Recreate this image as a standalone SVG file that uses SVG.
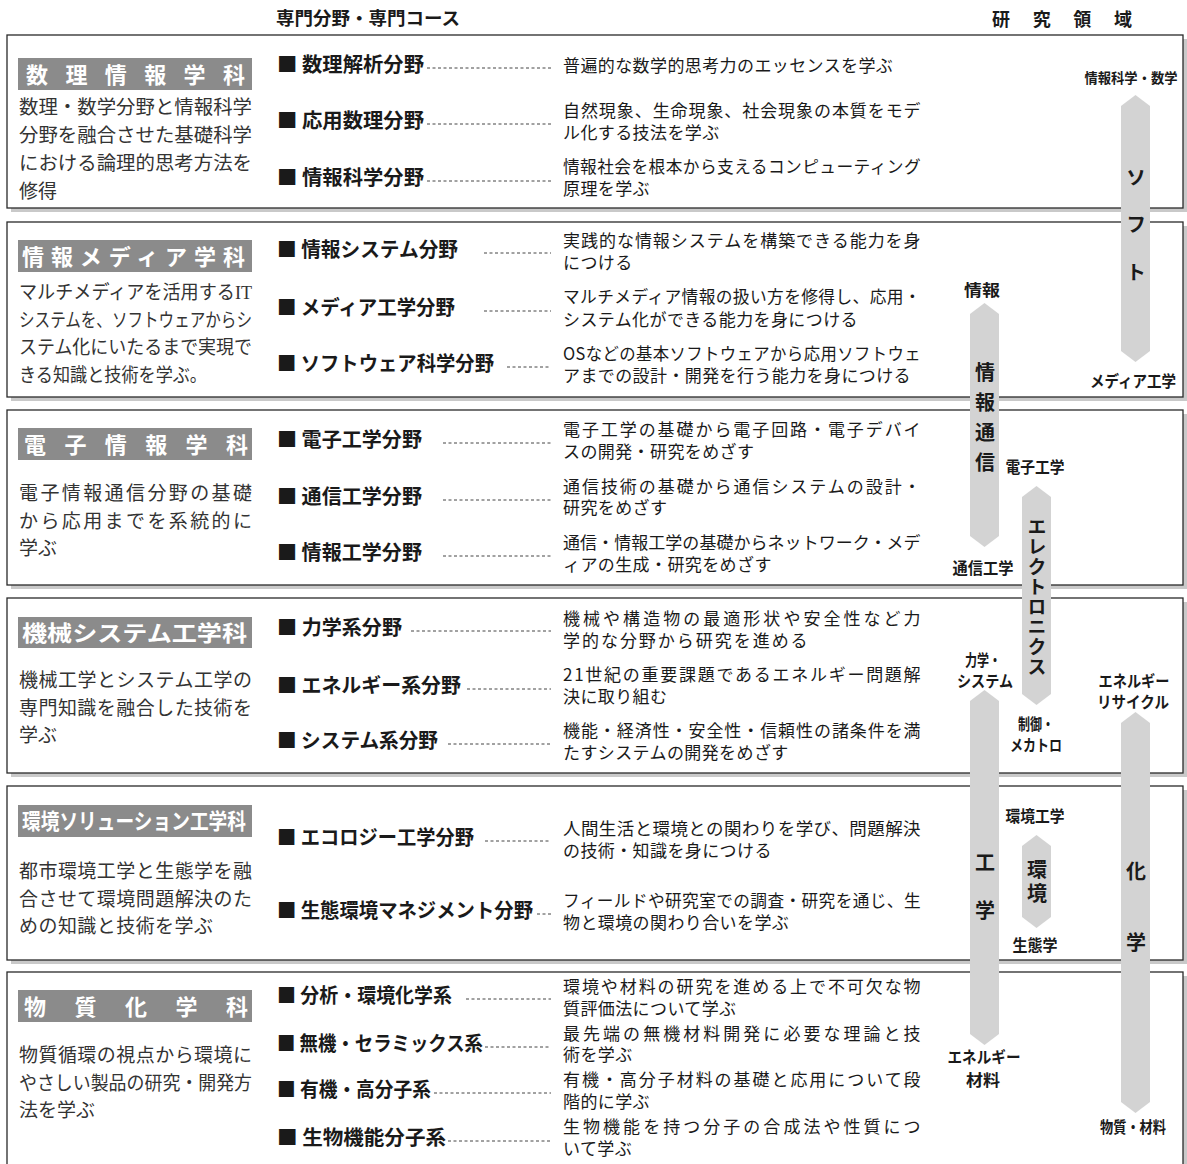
<svg xmlns="http://www.w3.org/2000/svg" width="1187" height="1164" viewBox="0 0 1187 1164">
<style>
text{font-family:"Noto Sans CJK JP","Noto Sans",sans-serif;fill:#1a1a1a}
.shadow{fill:#c9c9c9}
.box{fill:#fff;stroke:#2a2a2a;stroke-width:1.3}
.lbl{fill:#8b8b8b}
.lt{font-size:22px;font-weight:700;fill:#fff}
.fld{font-size:20px;font-weight:700}
.dsc{font-size:17px;letter-spacing:0.4px}
.ldsc{font-family:"Liberation Serif","Noto Sans CJK JP",serif;font-size:19px;fill:#333}
.lead{stroke:#444;stroke-width:1;stroke-dasharray:3 2.5;fill:none}
.bar{fill:#d3d3d3}
.bt{font-size:20px;font-weight:700;writing-mode:vertical-rl}
.rt{font-size:16px;font-weight:700;text-anchor:middle}
.hdr{font-size:18px;font-weight:700}
</style>
<rect width="1187" height="1164" fill="#fff"/>

<g id="headers">
<text class="hdr" x="276" y="25" textLength="184" lengthAdjust="spacingAndGlyphs">専門分野・専門コース</text>
<text class="hdr" x="992" y="26" textLength="140" lengthAdjust="spacing">研究領域</text>
</g>

<g id="dept-suuri">
<rect class="shadow" x="11" y="39" width="1176" height="173"/>
<rect class="box" x="7" y="35" width="1176" height="173"/>
<rect class="lbl" x="18" y="58" width="234" height="32"/>
<text class="lt" x="26" y="83" textLength="219" lengthAdjust="spacing">数理情報学科</text>
<text class="ldsc" x="19" y="114" textLength="233" lengthAdjust="spacingAndGlyphs">数理・数学分野と情報科学</text>
<text class="ldsc" x="19" y="142" textLength="233" lengthAdjust="spacingAndGlyphs">分野を融合させた基礎科学</text>
<text class="ldsc" x="19" y="170" textLength="233" lengthAdjust="spacingAndGlyphs">における論理的思考方法を</text>
<text class="ldsc" x="19" y="198">修得</text>
<text class="fld" x="277" y="72" textLength="147" lengthAdjust="spacingAndGlyphs">■ 数理解析分野</text>
<text class="fld" x="277" y="128" textLength="147" lengthAdjust="spacingAndGlyphs">■ 応用数理分野</text>
<text class="fld" x="277" y="185" textLength="147" lengthAdjust="spacingAndGlyphs">■ 情報科学分野</text>
<text class="dsc" x="563" y="72">普遍的な数学的思考力のエッセンスを学ぶ</text>
<text class="dsc" x="563" y="117" textLength="358" lengthAdjust="spacing">自然現象、生命現象、社会現象の本質をモデ</text>
<text class="dsc" x="563" y="139">ル化する技法を学ぶ</text>
<text class="dsc" x="563" y="173" textLength="358" lengthAdjust="spacingAndGlyphs">情報社会を根本から支えるコンピューティング</text>
<text class="dsc" x="563" y="195">原理を学ぶ</text>
</g>

<g id="dept-media">
<rect class="shadow" x="11" y="226" width="1176" height="175"/>
<rect class="box" x="7" y="222" width="1176" height="175"/>
<rect class="lbl" x="18" y="240" width="234" height="32"/>
<text class="lt" x="22" y="265" textLength="223" lengthAdjust="spacing">情報メディア学科</text>
<text class="ldsc" x="19" y="299" textLength="233" lengthAdjust="spacingAndGlyphs">マルチメディアを活用するIT</text>
<text class="ldsc" x="19" y="327" textLength="233" lengthAdjust="spacingAndGlyphs">システムを、ソフトウェアからシ</text>
<text class="ldsc" x="19" y="354" textLength="233" lengthAdjust="spacingAndGlyphs">ステム化にいたるまで実現で</text>
<text class="ldsc" x="19" y="382" textLength="188" lengthAdjust="spacingAndGlyphs">きる知識と技術を学ぶ。</text>
<text class="fld" x="277" y="257" textLength="181" lengthAdjust="spacingAndGlyphs">■ 情報システム分野</text>
<text class="fld" x="277" y="315" textLength="178" lengthAdjust="spacingAndGlyphs">■ メディア工学分野</text>
<text class="fld" x="277" y="371" textLength="217" lengthAdjust="spacingAndGlyphs">■ ソフトウェア科学分野</text>
<text class="dsc" x="563" y="247" textLength="358" lengthAdjust="spacing">実践的な情報システムを構築できる能力を身</text>
<text class="dsc" x="563" y="269">につける</text>
<text class="dsc" x="563" y="303" textLength="358" lengthAdjust="spacingAndGlyphs">マルチメディア情報の扱い方を修得し、応用・</text>
<text class="dsc" x="563" y="326">システム化ができる能力を身につける</text>
<text class="dsc" x="563" y="360" textLength="358" lengthAdjust="spacingAndGlyphs">OSなどの基本ソフトウェアから応用ソフトウェ</text>
<text class="dsc" x="563" y="382">アまでの設計・開発を行う能力を身につける</text>
</g>

<g id="dept-denshi">
<rect class="shadow" x="11" y="414" width="1176" height="175"/>
<rect class="box" x="7" y="410" width="1176" height="175"/>
<rect class="lbl" x="18" y="428" width="234" height="32"/>
<text class="lt" x="24" y="453" textLength="224" lengthAdjust="spacing">電子情報学科</text>
<text class="ldsc" x="19" y="500" textLength="233" lengthAdjust="spacing">電子情報通信分野の基礎</text>
<text class="ldsc" x="19" y="528" textLength="233" lengthAdjust="spacing">から応用までを系統的に</text>
<text class="ldsc" x="19" y="555">学ぶ</text>
<text class="fld" x="277" y="447" textLength="145" lengthAdjust="spacingAndGlyphs">■ 電子工学分野</text>
<text class="fld" x="277" y="504" textLength="145" lengthAdjust="spacingAndGlyphs">■ 通信工学分野</text>
<text class="fld" x="277" y="560" textLength="145" lengthAdjust="spacingAndGlyphs">■ 情報工学分野</text>
<text class="dsc" x="563" y="436" textLength="358" lengthAdjust="spacing">電子工学の基礎から電子回路・電子デバイ</text>
<text class="dsc" x="563" y="458">スの開発・研究をめざす</text>
<text class="dsc" x="563" y="493" textLength="358" lengthAdjust="spacing">通信技術の基礎から通信システムの設計・</text>
<text class="dsc" x="563" y="514">研究をめざす</text>
<text class="dsc" x="563" y="549" textLength="358" lengthAdjust="spacing">通信・情報工学の基礎からネットワーク・メデ</text>
<text class="dsc" x="563" y="571">ィアの生成・研究をめざす</text>
</g>

<g id="dept-kikai">
<rect class="shadow" x="11" y="602" width="1176" height="175"/>
<rect class="box" x="7" y="598" width="1176" height="175"/>
<rect class="lbl" x="18" y="617" width="234" height="31"/>
<text class="lt" x="22" y="641" textLength="225" lengthAdjust="spacingAndGlyphs">機械システム工学科</text>
<text class="ldsc" x="19" y="687" textLength="233" lengthAdjust="spacing">機械工学とシステム工学の</text>
<text class="ldsc" x="19" y="715" textLength="233" lengthAdjust="spacing">専門知識を融合した技術を</text>
<text class="ldsc" x="19" y="742">学ぶ</text>
<text class="fld" x="277" y="635" textLength="125" lengthAdjust="spacingAndGlyphs">■ 力学系分野</text>
<text class="fld" x="277" y="693" textLength="184" lengthAdjust="spacingAndGlyphs">■ エネルギー系分野</text>
<text class="fld" x="277" y="748" textLength="161" lengthAdjust="spacingAndGlyphs">■ システム系分野</text>
<text class="dsc" x="563" y="625" textLength="358" lengthAdjust="spacing">機械や構造物の最適形状や安全性など力</text>
<text class="dsc" x="563" y="647" textLength="245" lengthAdjust="spacing">学的な分野から研究を進める</text>
<text class="dsc" x="563" y="681" textLength="358" lengthAdjust="spacing">21世紀の重要課題であるエネルギー問題解</text>
<text class="dsc" x="563" y="703">決に取り組む</text>
<text class="dsc" x="563" y="737" textLength="358" lengthAdjust="spacing">機能・経済性・安全性・信頼性の諸条件を満</text>
<text class="dsc" x="563" y="759">たすシステムの開発をめざす</text>
</g>

<g id="dept-kankyo">
<rect class="shadow" x="11" y="790" width="1176" height="174"/>
<rect class="box" x="7" y="786" width="1176" height="174"/>
<rect class="lbl" x="18" y="805" width="234" height="32"/>
<text class="lt" x="22" y="829" textLength="224" lengthAdjust="spacingAndGlyphs">環境ソリューション工学科</text>
<text class="ldsc" x="19" y="878" textLength="233" lengthAdjust="spacing">都市環境工学と生態学を融</text>
<text class="ldsc" x="19" y="906" textLength="233" lengthAdjust="spacing">合させて環境問題解決のた</text>
<text class="ldsc" x="19" y="933" textLength="194" lengthAdjust="spacing">めの知識と技術を学ぶ</text>
<text class="fld" x="277" y="845" textLength="197" lengthAdjust="spacingAndGlyphs">■ エコロジー工学分野</text>
<text class="fld" x="277" y="918" textLength="256" lengthAdjust="spacingAndGlyphs">■ 生態環境マネジメント分野</text>
<text class="dsc" x="563" y="835" textLength="358" lengthAdjust="spacingAndGlyphs">人間生活と環境との関わりを学び、問題解決</text>
<text class="dsc" x="563" y="857">の技術・知識を身につける</text>
<text class="dsc" x="563" y="907" textLength="358" lengthAdjust="spacingAndGlyphs">フィールドや研究室での調査・研究を通じ、生</text>
<text class="dsc" x="563" y="929">物と環境の関わり合いを学ぶ</text>
</g>

<g id="dept-busshitsu">
<rect class="shadow" x="11" y="976" width="1176" height="200"/>
<rect class="box" x="7" y="972" width="1176" height="200"/>
<rect class="lbl" x="18" y="990" width="234" height="32"/>
<text class="lt" x="24" y="1015" textLength="224" lengthAdjust="spacing">物質化学科</text>
<text class="ldsc" x="19" y="1062" textLength="233" lengthAdjust="spacing">物質循環の視点から環境に</text>
<text class="ldsc" x="19" y="1090" textLength="233" lengthAdjust="spacingAndGlyphs">やさしい製品の研究・開発方</text>
<text class="ldsc" x="19" y="1117">法を学ぶ</text>
<text class="fld" x="277" y="1003" textLength="175" lengthAdjust="spacingAndGlyphs">■ 分析・環境化学系</text>
<text class="fld" x="277" y="1051" textLength="206" lengthAdjust="spacingAndGlyphs">■ 無機・セラミックス系</text>
<text class="fld" x="277" y="1097" textLength="154" lengthAdjust="spacingAndGlyphs">■ 有機・高分子系</text>
<text class="fld" x="277" y="1145" textLength="169" lengthAdjust="spacingAndGlyphs">■ 生物機能分子系</text>
<text class="dsc" x="563" y="993" textLength="358" lengthAdjust="spacing">環境や材料の研究を進める上で不可欠な物</text>
<text class="dsc" x="563" y="1015">質評価法について学ぶ</text>
<text class="dsc" x="563" y="1040" textLength="358" lengthAdjust="spacing">最先端の無機材料開発に必要な理論と技</text>
<text class="dsc" x="563" y="1061">術を学ぶ</text>
<text class="dsc" x="563" y="1086" textLength="358" lengthAdjust="spacing">有機・高分子材料の基礎と応用について段</text>
<text class="dsc" x="563" y="1108">階的に学ぶ</text>
<text class="dsc" x="563" y="1133" textLength="358" lengthAdjust="spacing">生物機能を持つ分子の合成法や性質につ</text>
<text class="dsc" x="563" y="1155">いて学ぶ</text>
</g>

<g id="connectors">
<line class="lead" x1="427" y1="68" x2="551" y2="68"/>
<line class="lead" x1="427" y1="124" x2="551" y2="124"/>
<line class="lead" x1="427" y1="181" x2="551" y2="181"/>
<line class="lead" x1="484" y1="253" x2="551" y2="253"/>
<line class="lead" x1="484" y1="311" x2="551" y2="311"/>
<line class="lead" x1="507" y1="367" x2="551" y2="367"/>
<line class="lead" x1="443" y1="443" x2="551" y2="443"/>
<line class="lead" x1="443" y1="500" x2="551" y2="500"/>
<line class="lead" x1="443" y1="556" x2="551" y2="556"/>
<line class="lead" x1="411" y1="631" x2="551" y2="631"/>
<line class="lead" x1="467" y1="689" x2="551" y2="689"/>
<line class="lead" x1="448" y1="744" x2="551" y2="744"/>
<line class="lead" x1="485" y1="841" x2="551" y2="841"/>
<line class="lead" x1="537" y1="914" x2="551" y2="914"/>
<line class="lead" x1="466" y1="999" x2="551" y2="999"/>
<line class="lead" x1="485" y1="1047" x2="551" y2="1047"/>
<line class="lead" x1="434" y1="1093" x2="551" y2="1093"/>
<line class="lead" x1="448" y1="1141" x2="551" y2="1141"/>
</g>

<g id="area-soft">
<path class="bar" d="M1135.5 95 L1150 106 L1150 351 L1135.5 362 L1121 351 L1121 106 Z"/>
<text class="bt" x="1136" y="167" style="letter-spacing:27.5px">ソフト</text>
<text class="rt" x="1131" y="83" style="font-size:14px" textLength="93" lengthAdjust="spacingAndGlyphs">情報科学・数学</text>
<text class="rt" x="1133" y="387" textLength="86" lengthAdjust="spacingAndGlyphs">メディア工学</text>
</g>

<g id="area-joho-tsushin">
<path class="bar" d="M984.5 303 L999 314 L999 536 L984.5 547 L970 536 L970 314 Z"/>
<text class="bt" x="985" y="362" style="letter-spacing:10px">情報通信</text>
<text class="rt" x="982" y="296" textLength="36" lengthAdjust="spacingAndGlyphs">情報</text>
<text class="rt" x="983" y="574" textLength="61" lengthAdjust="spacingAndGlyphs">通信工学</text>
</g>

<g id="area-electronics">
<path class="bar" d="M1036.5 486 L1051 497 L1051 694 L1036.5 705 L1022 694 L1022 497 Z"/>
<text class="bt" x="1037" y="517.5" style="font-size:19px;letter-spacing:1px">エレクトロニクス</text>
<text class="rt" x="1035" y="473" textLength="59" lengthAdjust="spacingAndGlyphs">電子工学</text>
<text class="rt" x="1036" y="730" textLength="36" lengthAdjust="spacingAndGlyphs">制御・</text>
<text class="rt" x="1036" y="751" textLength="52" lengthAdjust="spacingAndGlyphs">メカトロ</text>
</g>

<g id="area-kogaku">
<path class="bar" d="M984.5 690 L999 701 L999 1034 L984.5 1045 L970 1034 L970 701 Z"/>
<text class="bt" x="985" y="852" style="letter-spacing:28px">工学</text>
<text class="rt" x="983" y="666" textLength="36" lengthAdjust="spacingAndGlyphs">力学・</text>
<text class="rt" x="985" y="687" textLength="56" lengthAdjust="spacingAndGlyphs">システム</text>
<text class="rt" x="984" y="1063" textLength="73" lengthAdjust="spacingAndGlyphs">エネルギー</text>
<text class="rt" x="983" y="1086" textLength="34" lengthAdjust="spacingAndGlyphs">材料</text>
</g>

<g id="area-kagaku">
<path class="bar" d="M1135.5 712 L1150 723 L1150 1102 L1135.5 1113 L1121 1102 L1121 723 Z"/>
<text class="bt" x="1136" y="861" style="letter-spacing:51px">化学</text>
<text class="rt" x="1134" y="687" textLength="71" lengthAdjust="spacingAndGlyphs">エネルギー</text>
<text class="rt" x="1133" y="708" textLength="72" lengthAdjust="spacingAndGlyphs">リサイクル</text>
<text class="rt" x="1133" y="1133" textLength="66" lengthAdjust="spacingAndGlyphs">物質・材料</text>
</g>

<g id="area-kankyo">
<path class="bar" d="M1036.5 835 L1051 846 L1051 917 L1036.5 928 L1022 917 L1022 846 Z"/>
<text class="bt" x="1037" y="859" style="letter-spacing:4px">環境</text>
<text class="rt" x="1035" y="822" textLength="59" lengthAdjust="spacingAndGlyphs">環境工学</text>
<text class="rt" x="1035" y="951" textLength="45" lengthAdjust="spacingAndGlyphs">生態学</text>
</g>
</svg>
